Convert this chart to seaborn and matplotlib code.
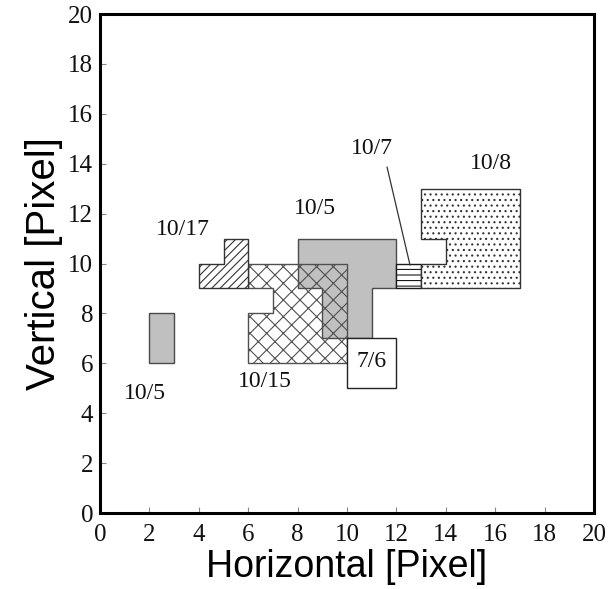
import matplotlib
matplotlib.use("Agg")
import matplotlib.pyplot as plt
from matplotlib.patches import Polygon
import seaborn as sns
import pandas as pd

# ---- data (grid units) ----
gray_small_x = [2, 3, 3, 2]
gray_small_y = [6, 6, 8, 8]
gray_big_x = [8, 12, 12, 11, 11, 9, 9, 8]
gray_big_y = [11, 11, 9, 9, 7, 7, 9, 9]
cross_10_15_x = [6, 10, 10, 6, 6, 7, 7, 6]
cross_10_15_y = [10, 10, 6, 6, 8, 8, 9, 9]
diag_10_17_x = [4, 6, 6, 5, 5, 4]
diag_10_17_y = [9, 9, 11, 11, 10, 10]
lines_10_7_x = [12, 13, 13, 12]
lines_10_7_y = [9, 9, 10, 10]
dots_10_8_x = [13, 17, 17, 13, 13, 14, 14, 13]
dots_10_8_y = [13, 13, 9, 9, 10, 10, 11, 11]
box_7_6_x = [10, 12, 12, 10]
box_7_6_y = [5, 5, 7, 7]

label_text = ["10/5", "10/15", "10/17", "10/5", "10/7", "10/8", "7/6"]
label_x = [1.82, 6.68, 3.36, 8.7, 11.0, 15.83, 11.01]
label_y = [4.8, 5.29, 11.38, 12.2, 14.6, 13.99, 6.09]

leader_x = [11.62, 12.55]
leader_y = [13.87, 9.94]

ticks = [0, 2, 4, 6, 8, 10, 12, 14, 16, 18, 20]

# ---- style ----
sns.set_theme(style="white")
plt.rcParams["font.family"] = ["Liberation Serif", "DejaVu Serif"]
plt.rcParams["hatch.linewidth"] = 0.8

fig = plt.figure(figsize=(6.12, 5.89), dpi=100)
ax = fig.add_axes([0.1634, 0.129, 0.8072, 0.8472])

edge = "#4a4a4a"

def add(xs, ys, **kw):
    ax.add_patch(Polygon(list(zip(xs, ys)), closed=True, **kw))

add(gray_small_x, gray_small_y, facecolor="#c0c0c0", edgecolor=edge, lw=1.0, zorder=2)
add(gray_big_x, gray_big_y, facecolor="#c0c0c0", edgecolor=edge, lw=1.0, zorder=2)
add(cross_10_15_x, cross_10_15_y, facecolor="none", edgecolor="#505050", hatch="xx", lw=1.0, zorder=3)
add(diag_10_17_x, diag_10_17_y, facecolor="white", edgecolor="#333333", hatch="////", lw=1.0, zorder=3)
add(lines_10_7_x, lines_10_7_y, facecolor="white", edgecolor="#1a1a1a", hatch="---", lw=1.0, zorder=3)
add(dots_10_8_x, dots_10_8_y, facecolor="white", edgecolor="#333333", hatch="...", lw=1.0, zorder=3)
add(box_7_6_x, box_7_6_y, facecolor="white", edgecolor="#222222", lw=1.0, zorder=4)

lead = pd.DataFrame({"x": leader_x, "y": leader_y})
sns.lineplot(data=lead, x="x", y="y", ax=ax, color="#333333", lw=0.9, sort=False, zorder=5)

for t, x, y in zip(label_text, label_x, label_y):
    ax.text(x, y, t, ha="center", va="center", fontsize=17, color="#111111", zorder=6)

ax.set_xlim(0, 20)
ax.set_ylim(0, 20)
ax.set_xticks(ticks)
ax.set_yticks(ticks)
ax.set_xticklabels([str(t) for t in ticks], fontsize=18)
ax.set_yticklabels([str(t) for t in ticks], fontsize=18)
ax.tick_params(axis="both", direction="in", length=4, width=0.8, color="#888888",
               bottom=True, left=True, top=False, right=False, labelcolor="#111111")
ax.tick_params(axis="x", pad=8)
ax.tick_params(axis="y", pad=5)
for s in ax.spines.values():
    s.set_linewidth(2.2)
    s.set_color("black")

ax.set_xlabel("Horizontal [Pixel]", fontsize=27, family=["Liberation Sans", "DejaVu Sans"],
              labelpad=2, color="black")
ax.set_ylabel("Vertical [Pixel]", fontsize=29, family=["Liberation Sans", "DejaVu Sans"],
              labelpad=4, color="black")

fig.savefig("out.png", dpi=100)
